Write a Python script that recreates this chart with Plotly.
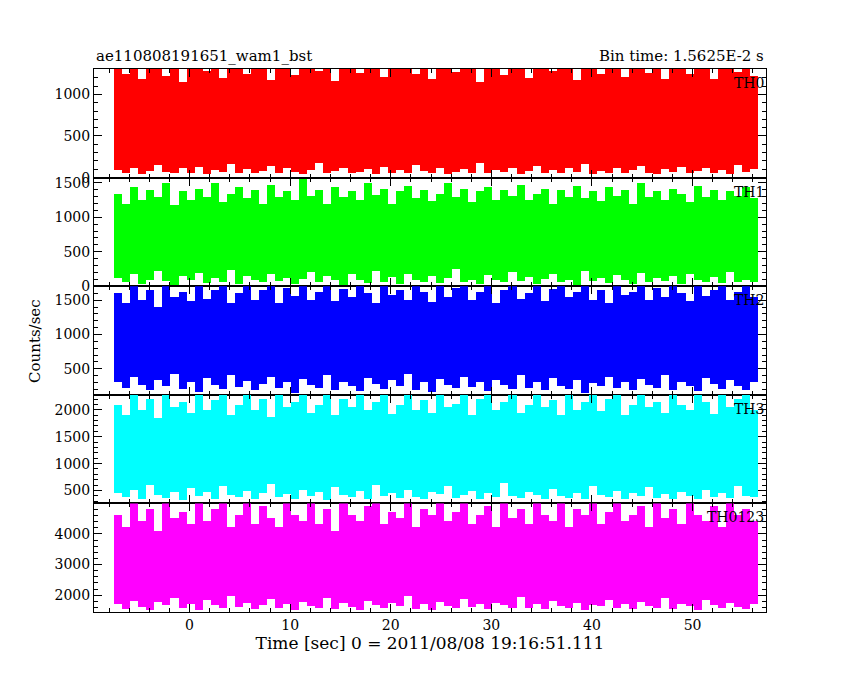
import plotly.graph_objects as go
from plotly.subplots import make_subplots

# 80 bins of 0.8 s from -7.5 to 56.5 s; per-bin max / min
bin_width = 0.8
time_bins = [-7.5 + bin_width * (i + 0.5) for i in range(80)]

th0_hi = [1300,1250,1300,1180,1300,1300,1220,1300,1150,1300,
          1300,1280,1300,1200,1300,1300,1250,1300,1300,1170,
          1300,1300,1230,1300,1300,1280,1300,1160,1300,1300,
          1260,1300,1300,1210,1300,1300,1300,1240,1300,1190,
          1300,1300,1270,1300,1300,1150,1300,1300,1230,1300,
          1300,1200,1300,1300,1280,1300,1300,1170,1300,1300,
          1250,1300,1300,1210,1300,1300,1260,1300,1190,1300,
          1300,1240,1300,1300,1180,1300,1300,1270,1300,1220]
th0_lo = [90,60,120,40,80,150,70,50,110,60,
          130,40,90,70,160,50,100,60,80,140,
          50,110,70,40,90,170,60,80,120,50,
          70,100,40,130,60,90,50,150,80,60,
          110,40,70,100,60,180,50,90,70,120,
          40,80,140,60,90,50,110,70,160,40,
          80,60,120,50,90,140,60,40,100,70,
          130,50,80,110,60,90,40,150,70,100]

th1_hi = [1350,1200,1450,1250,1400,1300,1500,1180,1380,1260,
          1420,1300,1500,1220,1350,1450,1280,1400,1200,1480,
          1300,1380,1250,1560,1320,1400,1200,1450,1300,1380,
          1250,1500,1330,1420,1200,1380,1460,1280,1400,1240,
          1350,1500,1300,1420,1220,1380,1450,1260,1400,1320,
          1480,1250,1350,1420,1200,1400,1300,1460,1280,1380,
          1240,1450,1320,1400,1200,1500,1300,1380,1260,1420,
          1350,1220,1460,1300,1400,1250,1380,1320,1450,1280]
th1_lo = [120,60,180,40,100,220,80,30,150,90,
          200,50,120,70,240,40,160,90,60,190,
          80,130,40,110,210,60,150,90,30,180,
          100,50,230,70,140,40,190,90,60,160,
          50,120,250,70,100,40,170,90,60,210,
          80,140,40,110,190,60,100,30,220,80,
          130,50,170,90,40,200,60,120,80,150,
          40,180,90,60,140,50,210,70,100,60]

th2_hi = [1600,1450,1700,1500,1650,1400,1700,1550,1620,1480,
          1700,1520,1650,1700,1460,1600,1700,1500,1640,1700,
          1450,1680,1560,1700,1500,1620,1700,1480,1660,1540,
          1700,1600,1450,1700,1580,1640,1500,1700,1620,1470,
          1700,1550,1680,1700,1500,1620,1700,1460,1650,1700,
          1520,1600,1700,1480,1660,1700,1540,1620,1700,1500,
          1650,1460,1700,1580,1620,1700,1500,1680,1540,1700,
          1600,1480,1700,1560,1640,1700,1500,1620,1700,1550]
th2_lo = [300,220,380,260,180,340,240,420,200,300,
          160,360,260,200,400,230,320,180,280,380,
          210,300,150,350,260,220,400,190,310,250,
          170,360,280,200,330,240,420,190,300,160,
          350,260,210,380,230,300,170,340,260,200,
          400,220,310,180,360,250,200,330,150,290,
          240,380,210,300,180,350,260,220,400,190,
          310,250,170,360,280,200,330,240,190,300]

th3_hi = [2100,1900,2280,2000,2200,1850,2280,2050,2150,1950,
          2280,2000,2180,2280,1900,2100,2280,2000,2200,1880,
          2280,2050,2150,2280,1950,2100,2280,1900,2200,2050,
          2280,2000,2150,2280,1920,2100,2280,2000,2180,1950,
          2280,2050,2120,2280,1900,2200,2280,2000,2150,2280,
          1950,2100,2280,2050,2180,1900,2280,2000,2150,2280,
          1980,2200,2280,1900,2100,2280,2050,2150,1950,2280,
          2100,2000,2280,2150,1920,2280,2050,2200,2280,2000]
th3_lo = [450,380,520,340,600,420,360,480,330,550,
          400,470,350,580,420,380,500,340,460,620,
          390,430,350,520,400,470,330,560,420,380,
          490,350,610,410,450,360,520,390,340,470,
          430,580,370,420,500,350,460,390,640,410,
          360,480,420,340,530,400,370,460,350,590,
          420,380,500,340,450,410,560,370,430,350,
          480,400,340,520,390,450,360,580,410,380]

th0123_hi = [4600,4200,5000,4400,4800,4100,5000,4500,4700,4300,
             5000,4400,4800,5000,4200,4600,5000,4300,4900,4500,
             4200,5000,4600,4400,5000,4300,4800,4100,5000,4600,
             4400,4900,5000,4300,4700,4500,5000,4200,4800,4600,
             5000,4400,4700,5000,4300,4600,4900,4200,5000,4500,
             4800,4300,5000,4600,4400,5000,4200,4800,4600,5000,
             4300,4700,5000,4400,4600,4900,4200,5000,4500,4800,
             4300,5000,4600,4400,4900,4200,5000,4600,4800,4400]
th0123_lo = [1700,1550,1800,1600,1500,1750,1650,1900,1580,1700,
             1500,1820,1650,1560,1950,1600,1720,1520,1680,1850,
             1580,1700,1500,1760,1640,1560,1900,1540,1720,1600,
             1500,1800,1660,1580,1740,1620,1960,1550,1700,1500,
             1780,1640,1560,1860,1600,1700,1520,1740,1660,1580,
             1920,1560,1700,1520,1800,1640,1580,1720,1500,1680,
             1620,1840,1560,1700,1520,1780,1640,1580,1900,1540,
             1700,1620,1500,1820,1680,1560,1740,1600,1520,1700]

panel_names = ["TH0", "TH1", "TH2", "TH3", "TH0123"]
panel_colors = ["#ff0000", "#00ff00", "#0000ff", "#00ffff", "#ff00ff"]
panel_hi = [th0_hi, th1_hi, th2_hi, th3_hi, th0123_hi]
panel_lo = [th0_lo, th1_lo, th2_lo, th3_lo, th0123_lo]
y_ranges = [[0, 1305], [0, 1575], [120, 1705], [260, 2280], [1450, 5000]]
y_ticks = [[0, 500, 1000], [0, 500, 1000, 1500], [500, 1000, 1500],
           [500, 1000, 1500, 2000], [2000, 3000, 4000]]
y_minor = [100, 100, 100, 100, 200]

fnt = "DejaVu Serif"
fig = make_subplots(rows=5, cols=1, shared_xaxes=True, vertical_spacing=0)

for i in range(5):
    hi, lo = panel_hi[i], panel_lo[i]
    fig.add_trace(go.Bar(x=time_bins, y=[h - l for h, l in zip(hi, lo)], base=lo,
                         width=bin_width, marker=dict(color=panel_colors[i], line_width=0),
                         showlegend=False), row=i + 1, col=1)
    fig.update_yaxes(range=y_ranges[i], tickvals=y_ticks[i], row=i + 1, col=1,
                     minor=dict(dtick=y_minor[i], ticks="inside", ticklen=4, tickcolor="black"))
    fig.add_annotation(text=panel_names[i], x=1, xref="x domain", y=1,
                       yref="y domain" if i == 0 else f"y{i+1} domain",
                       xanchor="right", yanchor="top", showarrow=False,
                       font=dict(family=fnt, size=14, color="black"), yshift=-4)

fig.update_yaxes(ticks="inside", ticklen=8, showline=True, linecolor="black", linewidth=1,
                 mirror="ticks", showgrid=False, zeroline=False, tickcolor="black")
fig.update_xaxes(range=[-9.5, 57.3], dtick=10, ticks="inside", ticklen=8, showline=True,
                 linecolor="black", linewidth=1, mirror="ticks", showgrid=False,
                 zeroline=False, tickcolor="black",
                 minor=dict(dtick=2, ticks="inside", ticklen=4, tickcolor="black"))
fig.update_xaxes(title_text="Time [sec] 0 = 2011/08/08 19:16:51.111", title_standoff=4, row=5, col=1)

fig.add_annotation(text="ae110808191651_wam1_bst", x=0, xref="paper", y=1, yref="paper",
                   xanchor="left", yanchor="bottom", showarrow=False, yshift=2,
                   font=dict(family=fnt, size=15, color="black"))
fig.add_annotation(text="Bin time: 1.5625E-2 s", x=1, xref="paper", y=1, yref="paper",
                   xanchor="right", yanchor="bottom", showarrow=False, yshift=2,
                   font=dict(family=fnt, size=15, color="black"))
fig.add_annotation(text="Counts/sec", x=-0.105, xref="paper", y=0.5, yref="paper",
                   textangle=-90, showarrow=False, font=dict(family=fnt, size=15, color="black"))

fig.update_layout(width=850, height=680, plot_bgcolor="white", paper_bgcolor="white",
                  margin=dict(l=86, r=92, t=61, b=76), bargap=0,
                  font=dict(family=fnt, size=14, color="black"))

fig.write_html("out.html")
